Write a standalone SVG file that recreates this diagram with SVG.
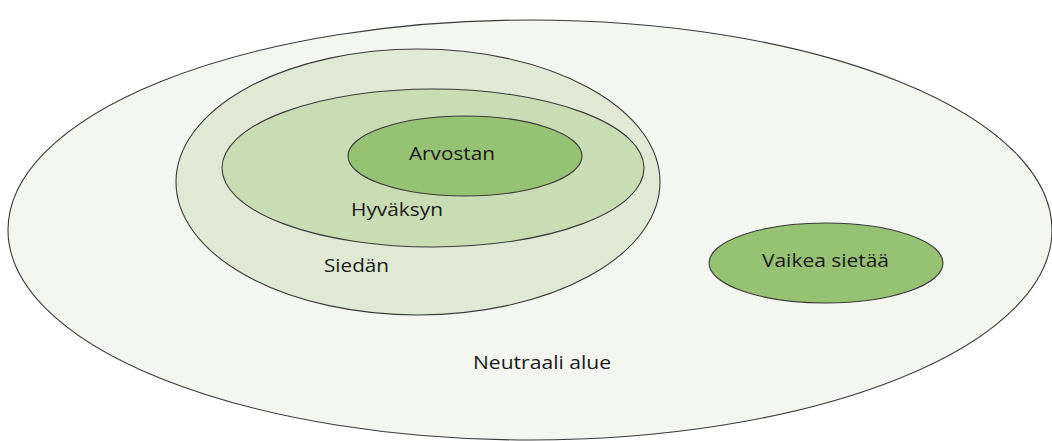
<svg xmlns="http://www.w3.org/2000/svg" width="1052" height="441" viewBox="0 0 1052 441">
<style>
.e{stroke:#3a3a3a;stroke-width:1.1}
.t{font-family:"Open Sans","Noto Sans",sans-serif;font-size:19px;fill:#1a1a1a}
</style>
<rect width="1052" height="441" fill="#ffffff"/>
<g id="neutraali">
<ellipse class="e" cx="530" cy="230" rx="522" ry="210" fill="#f4f7f0"/>
<text class="t" x="473" y="369" textLength="138" lengthAdjust="spacingAndGlyphs">Neutraali alue</text>
</g>
<g id="siedan">
<ellipse class="e" cx="418" cy="182" rx="242" ry="133" fill="#dfe9d3"/>
<text class="t" x="324" y="272" textLength="65" lengthAdjust="spacingAndGlyphs">Siedän</text>
</g>
<g id="hyvaksyn">
<ellipse class="e" cx="433" cy="168" rx="211" ry="79" fill="#c9ddb5"/>
<text class="t" x="351" y="216" textLength="92" lengthAdjust="spacingAndGlyphs">Hyväksyn</text>
</g>
<g id="arvostan">
<ellipse class="e" cx="465" cy="156" rx="117" ry="40" fill="#97c173"/>
<text class="t" x="409" y="160" textLength="86" lengthAdjust="spacingAndGlyphs">Arvostan</text>
</g>
<g id="vaikea">
<ellipse class="e" cx="826" cy="263" rx="117" ry="40" fill="#97c173"/>
<text class="t" x="762" y="267" textLength="127" lengthAdjust="spacingAndGlyphs">Vaikea sietää</text>
</g>
<g id="connectors"/>
</svg>
